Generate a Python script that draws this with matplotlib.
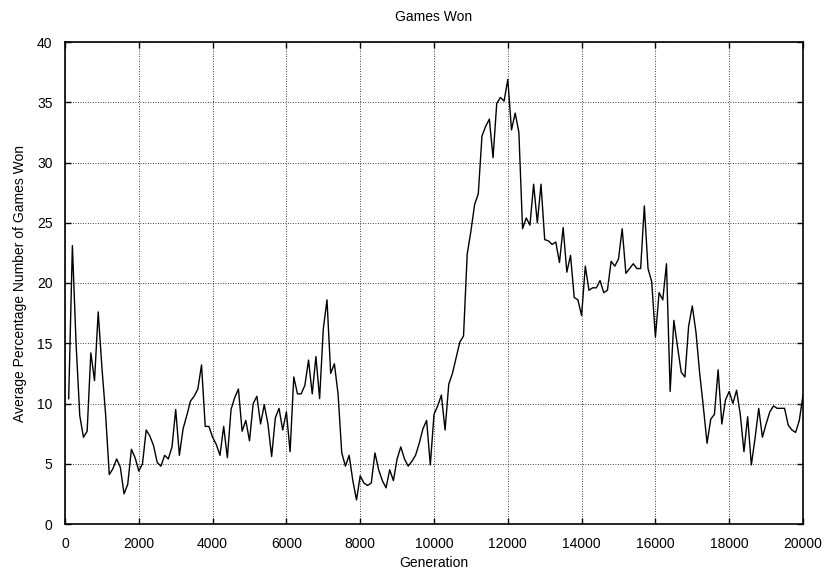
import matplotlib
matplotlib.use("Agg")
import matplotlib.pyplot as plt
import numpy as np

plt.rcParams['font.family'] = ['Liberation Sans', 'DejaVu Sans']

generations = list(range(100, 20001, 100))
games_won = [
    10.4, 23.1, 15.0, 9.0, 7.2, 7.7, 14.2, 11.9, 17.6, 13.0,
    9.1, 4.1, 4.6, 5.4, 4.7, 2.5, 3.3, 6.2, 5.5, 4.4,
    5.0, 7.8, 7.3, 6.5, 5.1, 4.8, 5.7, 5.4, 6.4, 9.5,
    5.7, 7.9, 9.0, 10.2, 10.6, 11.2, 13.2, 8.1, 8.1, 7.2,
    6.6, 5.7, 8.1, 5.5, 9.5, 10.5, 11.2, 7.7, 8.6, 6.9,
    10.0, 10.6, 8.3, 9.9, 8.3, 5.6, 8.8, 9.6, 7.8, 9.3,
    6.0, 12.2, 10.8, 10.8, 11.5, 13.6, 10.8, 13.9, 10.4, 16.2,
    18.6, 12.5, 13.3, 10.8, 5.9, 4.8, 5.7, 3.6, 2.0, 4.0,
    3.4, 3.2, 3.4, 5.9, 4.5, 3.6, 3.0, 4.5, 3.6, 5.4,
    6.4, 5.4, 4.8, 5.2, 5.7, 6.7, 7.9, 8.6, 4.9, 9.1,
    9.8, 10.7, 7.8, 11.6, 12.5, 13.8, 15.1, 15.6, 22.4, 24.3,
    26.5, 27.4, 32.2, 33.0, 33.6, 30.4, 34.9, 35.4, 35.1, 36.9,
    32.7, 34.1, 32.5, 24.5, 25.4, 24.8, 28.2, 25.0, 28.2, 23.6,
    23.5, 23.2, 23.4, 21.7, 24.6, 20.9, 22.3, 18.8, 18.6, 17.3,
    21.4, 19.4, 19.6, 19.6, 20.2, 19.2, 19.4, 21.8, 21.4, 22.0,
    24.5, 20.8, 21.2, 21.6, 21.2, 21.2, 26.4, 21.2, 20.1, 15.5,
    19.2, 18.6, 21.6, 11.0, 16.9, 14.7, 12.6, 12.2, 16.4, 18.1,
    15.9, 12.5, 9.7, 6.7, 8.7, 9.1, 12.8, 8.3, 10.3, 11.0,
    10.0, 11.1, 9.1, 6.0, 8.9, 4.9, 7.1, 9.6, 7.2, 8.3,
    9.3, 9.8, 9.6, 9.6, 9.6, 8.2, 7.8, 7.6, 8.6, 10.7,
]

x_ticks = list(range(0, 20001, 2000))
y_ticks = list(range(0, 41, 5))

fig = plt.figure(figsize=(8.29, 5.74), dpi=100)
ax = fig.add_axes([65 / 829, (574 - 524) / 574, (803 - 65) / 829, (524 - 42) / 574])

ax.plot(generations, games_won, color='black', lw=1.0)

ax.set_xlim(0, 20000)
ax.set_ylim(0, 40)
ax.set_xticks(x_ticks)
ax.set_yticks(y_ticks)
ax.tick_params(direction='in', length=4, width=1, top=True, right=True,
               labelsize=10, pad=9, colors='black')
ax.grid(True, color='black', linestyle=(0, (1, 2)), linewidth=0.6)
for s in ax.spines.values():
    s.set_linewidth(1.2)

ax.set_title('Games Won', fontsize=10, pad=15)
ax.set_xlabel('Generation', fontsize=10, labelpad=4)
ax.set_ylabel('Average Percentage Number of Games Won', fontsize=10, labelpad=7)

fig.savefig('out.png', dpi=100)
